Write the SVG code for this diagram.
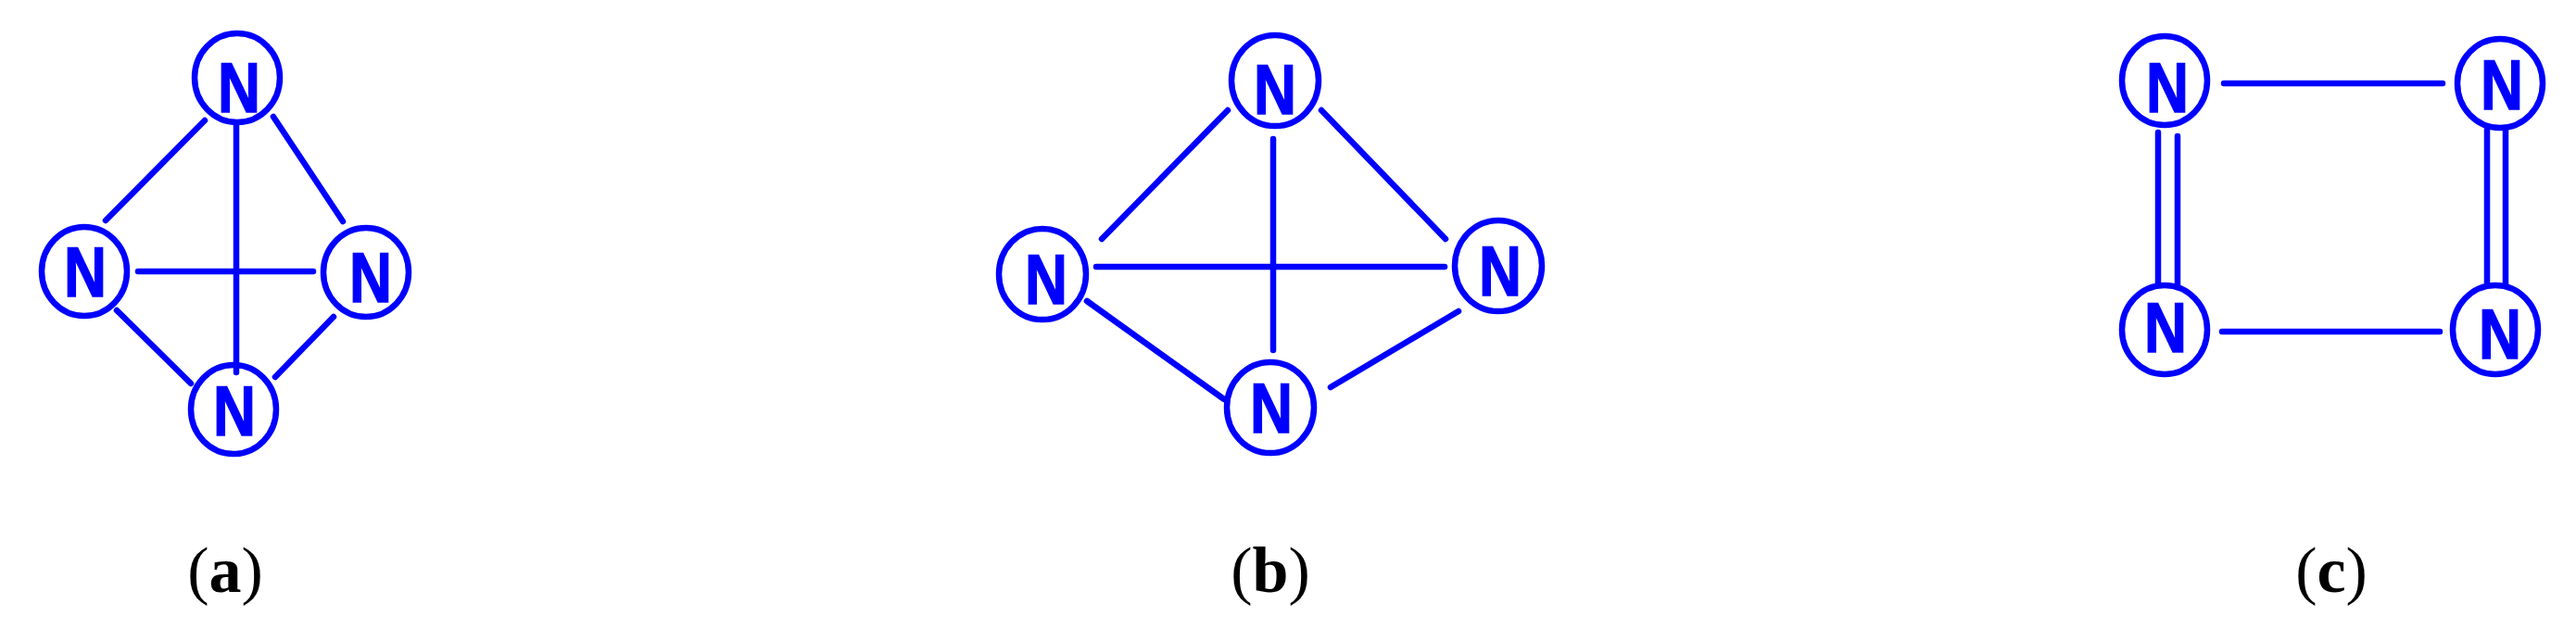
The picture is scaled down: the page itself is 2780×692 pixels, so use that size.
<svg xmlns="http://www.w3.org/2000/svg" width="2780" height="692" viewBox="0 0 2780 692">
<style>
.e{fill:none;stroke:#0000ff;stroke-width:6.5}
.n{font-family:"Liberation Sans",Arial,sans-serif;font-weight:bold;font-size:76px;fill:#0000ff;text-anchor:middle;stroke:#0000ff;stroke-width:1.5}
.c line{stroke:#0000ff;stroke-width:6.5;stroke-linecap:round}
.l{font-family:"Liberation Serif","Times New Roman",serif;font-size:70px;fill:#000;text-anchor:middle}
</style>
<rect width="2780" height="692" fill="#fff"/>
<g class="c" id="connectors">
<line x1="221" y1="130" x2="114" y2="238"/>
<line x1="255" y1="133" x2="255" y2="402"/>
<line x1="295" y1="126" x2="370" y2="239"/>
<line x1="149" y1="293" x2="338" y2="293"/>
<line x1="126" y1="335" x2="206" y2="414"/>
<line x1="360" y1="342" x2="297" y2="407"/>
<line x1="1325" y1="119" x2="1189" y2="258"/>
<line x1="1374" y1="150" x2="1374" y2="378"/>
<line x1="1426" y1="119" x2="1560" y2="258"/>
<line x1="1183" y1="288" x2="1559" y2="288"/>
<line x1="1173" y1="325" x2="1321" y2="431"/>
<line x1="1574" y1="336" x2="1436" y2="418"/>
<line x1="2400" y1="90" x2="2636" y2="90"/>
<line x1="2398" y1="358" x2="2633" y2="358"/>
<line x1="2329" y1="143" x2="2329" y2="308"/>
<line x1="2350" y1="147" x2="2350" y2="308"/>
<line x1="2684" y1="140" x2="2684" y2="306"/>
<line x1="2704" y1="140" x2="2704" y2="308"/>
</g>
<g id="a1"><ellipse class="e" cx="256" cy="84" rx="46" ry="48"/><text class="n" x="258" y="121" textLength="46" lengthAdjust="spacingAndGlyphs">N</text></g>
<g id="a2"><ellipse class="e" cx="91" cy="293" rx="46" ry="48"/><text class="n" x="92" y="320" textLength="46" lengthAdjust="spacingAndGlyphs">N</text></g>
<g id="a3"><ellipse class="e" cx="395" cy="294" rx="46" ry="48"/><text class="n" x="400" y="326" textLength="46" lengthAdjust="spacingAndGlyphs">N</text></g>
<g id="a4"><ellipse class="e" cx="252" cy="442" rx="46" ry="48"/><text class="n" x="253" y="470" textLength="46" lengthAdjust="spacingAndGlyphs">N</text></g>
<g id="b1"><ellipse class="e" cx="1376" cy="87" rx="47" ry="49"/><text class="n" x="1376" y="123" textLength="46" lengthAdjust="spacingAndGlyphs">N</text></g>
<g id="b2"><ellipse class="e" cx="1125" cy="296" rx="47" ry="49"/><text class="n" x="1129" y="328" textLength="46" lengthAdjust="spacingAndGlyphs">N</text></g>
<g id="b3"><ellipse class="e" cx="1617" cy="287" rx="47" ry="49"/><text class="n" x="1619" y="319" textLength="46" lengthAdjust="spacingAndGlyphs">N</text></g>
<g id="b4"><ellipse class="e" cx="1371" cy="440" rx="47" ry="49"/><text class="n" x="1372" y="467" textLength="46" lengthAdjust="spacingAndGlyphs">N</text></g>
<g id="c1"><ellipse class="e" cx="2336" cy="87" rx="46" ry="48"/><text class="n" x="2339" y="121" textLength="46" lengthAdjust="spacingAndGlyphs">N</text></g>
<g id="c2"><ellipse class="e" cx="2698" cy="90" rx="46" ry="48"/><text class="n" x="2700" y="118" textLength="46" lengthAdjust="spacingAndGlyphs">N</text></g>
<g id="c3"><ellipse class="e" cx="2336" cy="356" rx="46" ry="48"/><text class="n" x="2337" y="380" textLength="46" lengthAdjust="spacingAndGlyphs">N</text></g>
<g id="c4"><ellipse class="e" cx="2693" cy="356" rx="46" ry="48"/><text class="n" x="2698" y="387" textLength="46" lengthAdjust="spacingAndGlyphs">N</text></g>
<text class="l" x="243" y="639">(<tspan font-weight="bold">a</tspan>)</text>
<text class="l" x="1371" y="639">(<tspan font-weight="bold">b</tspan>)</text>
<text class="l" x="2516" y="639">(<tspan font-weight="bold">c</tspan>)</text>
</svg>
